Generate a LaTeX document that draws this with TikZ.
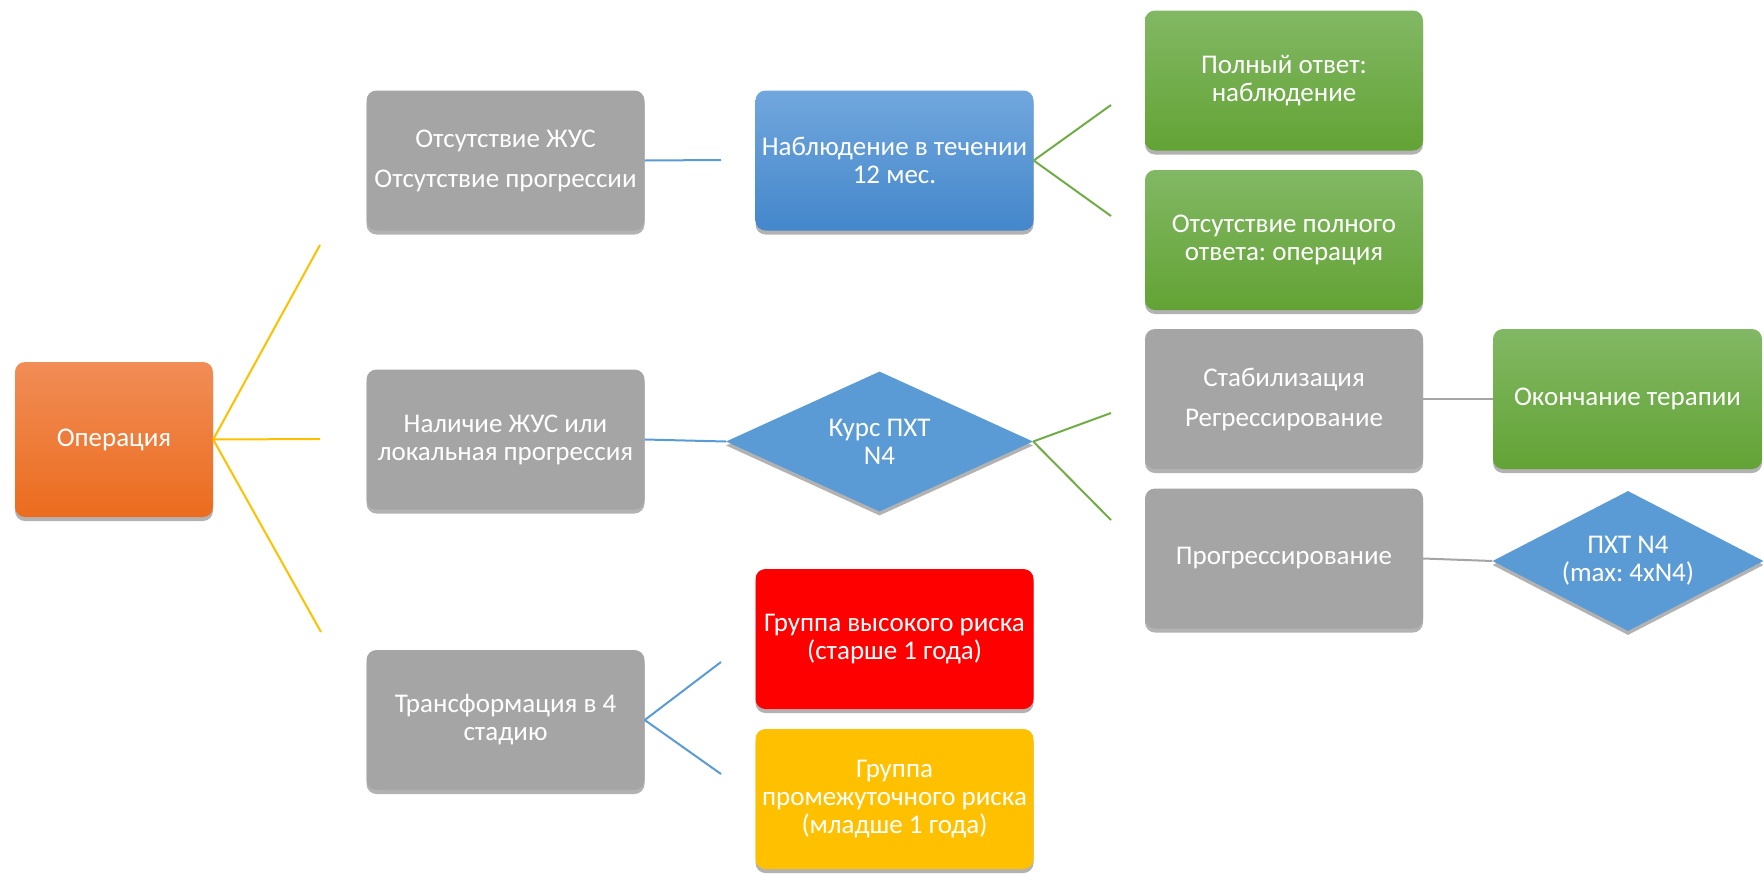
\documentclass[tikz,border=0pt]{standalone}
\usepackage{fontspec}
\setmainfont{Carlito}
\frenchspacing
\usetikzlibrary{shapes.geometric,shadows}
\definecolor{orTop}{HTML}{F18D57}
\definecolor{orBot}{HTML}{EB6C1E}
\definecolor{blTop}{HTML}{71A7DD}
\definecolor{blBot}{HTML}{4487CB}
\definecolor{blFlat}{HTML}{5B9BD5}
\definecolor{grTop}{HTML}{82B864}
\definecolor{grBot}{HTML}{63A335}
\definecolor{stone}{HTML}{A5A5A5}
\definecolor{alarm}{HTML}{FF0000}
\definecolor{amber}{HTML}{FFC000}
\definecolor{leaf}{HTML}{70AD47}

\begin{document}
\begin{tikzpicture}[
    x=1pt, y=-1pt,
    font=\fontsize{27}{28}\selectfont,
    tile/.style={rectangle, rounded corners=10pt, draw=none, text=white, align=center,
                 minimum width=278pt, minimum height=140pt, inner sep=1pt,
                 drop shadow={shadow xshift=0pt, shadow yshift=-4pt, opacity=0.3, fill=black}},
    flat/.style={tile, fill=#1},
    grad/.style 2 args={tile, top color=#1, bottom color=#2},
    rhomb/.style={diamond, aspect=2, draw=none, fill=blFlat, text=white, align=center, inner sep=0pt,
                  minimum width=#1, minimum height=140pt,
                  drop shadow={shadow xshift=0pt, shadow yshift=-4pt, opacity=0.3, fill=black}},
    link/.style={line width=2pt, draw=#1}
  ]
\useasboundingbox (0,0) rectangle (1764,873);

% ---------------- geometry ----------------
% column x-positions
\def\xa{505.5}     % gray column
\def\xb{894.5}     % second column
\def\xc{1284}      % third column
\def\xd{1628}      % last column

% ---------------- nodes ----------------
\node[grad={orTop}{orBot}, minimum width=198pt, minimum height=155pt] (op) at (114, 439.5) {Операция};

\node[flat=stone] (g1) at (\xa, 160.5) {Отсутствие ЖУС\\[12pt] Отсутствие прогрессии};
\node[flat=stone] (g2) at (\xa, 439.5) {Наличие ЖУС или\\ локальная прогрессия};
\node[flat=stone] (g3) at (\xa, 720) {Трансформация в 4\\ стадию};

\node[grad={blTop}{blBot}] (obs) at (\xb, 160.5) {Наблюдение в течении\\ 12 мес.};
\node[rhomb=307pt] (pxt) at (879.5, 441.5) {Курс ПХТ\\ N4};
\node[flat=alarm] (hi) at (\xb, 639) {Группа высокого риска\\ (старше 1 года)};
\node[flat=amber] (mid) at (\xb, 799) {Группа\\ промежуточного риска\\ (младше 1 года)};

\node[grad={grTop}{grBot}] (full) at (\xc, 80.5) {Полный ответ:\\ наблюдение};
\node[grad={grTop}{grBot}] (nofull) at (\xc, 240) {Отсутствие полного\\ ответа: операция};
\node[flat=stone] (stab) at (\xc, 399) {Стабилизация\\[12pt] Регрессирование};
\node[flat=stone] (prog) at (\xc, 558.5) {Прогрессирование};

\node[grad={grTop}{grBot}, minimum width=269pt] (stop) at (1627.5, 399) {Окончание терапии};
\node[rhomb=271pt] (pxt2) at (\xd, 561) {ПХТ N4\\ (max: 4xN4)};

% ---------------- free ends ----------------
\coordinate (y1) at (320, 245);
\coordinate (y2) at (320, 439);
\coordinate (y3) at (321, 632);
\coordinate (b1) at (721, 160);
\coordinate (b2) at (721, 662);
\coordinate (b3) at (721, 774);
\coordinate (v1) at (1111, 105);
\coordinate (v2) at (1111, 216);
\coordinate (v3) at (1111, 413);
\coordinate (v4) at (1111, 520);

% ---------------- connectors ----------------
\foreach \e in {y1,y2,y3}
  \draw[link=amber] (op.east) -- (\e);
\draw[link=blFlat] (g1.east) -- (b1);
\draw[link=blFlat] (g2.east) -- (pxt.west);
\foreach \e in {b2,b3}
  \draw[link=blFlat] (g3.east) -- (\e);
\foreach \e in {v1,v2}
  \draw[link=leaf] (obs.east) -- (\e);
\foreach \e in {v3,v4}
  \draw[link=leaf] (pxt.east) -- (\e);
\draw[link=stone] (stab.east) -- (stop.west);
\draw[link=stone] (prog.east) -- (pxt2.west);

\end{tikzpicture}
\end{document}
